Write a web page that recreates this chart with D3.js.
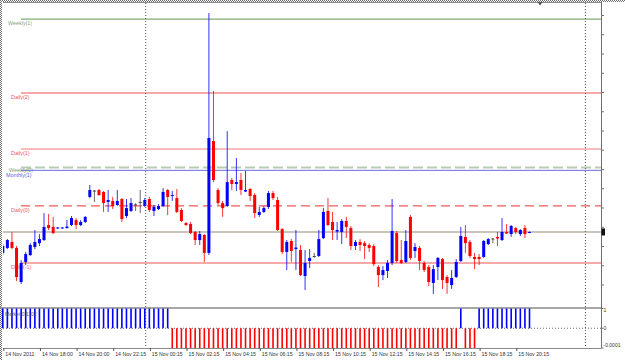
<!DOCTYPE html>
<html>
<head>
<meta charset="utf-8">
<script src="https://cdn.jsdelivr.net/npm/d3@7"></script>
<style>
  body { margin: 0; background: #fff; }
  svg { display: block; font-family: "Liberation Sans", Arial, sans-serif; }
</style>
</head>
<body>
<svg id="chart" width="625" height="360"></svg>
<script>
// M15 bars, 14 Nov 2011 16:00 -> 15 Nov 2011 20:45
const opens = [
  1.35964, 1.35990, 1.36021, 1.35990, 1.35813, 1.35917, 1.35953, 1.35995, 1.36015, 1.36031,
  1.36109, 1.36099, 1.36091, 1.36093, 1.36093, 1.36109, 1.36135, 1.36109, 1.36125, 1.36255,
  1.36288, 1.36291, 1.36281, 1.36229, 1.36234, 1.36213, 1.36244, 1.36156, 1.36182, 1.36216,
  1.36229, 1.36208, 1.36244, 1.36182, 1.36192, 1.36208, 1.36291, 1.36260, 1.36249, 1.36187,
  1.36119, 1.36114, 1.36073, 1.36031, 1.36057, 1.35964, 1.36545, 1.36291, 1.36223, 1.36208,
  1.36343, 1.36322, 1.36343, 1.36283, 1.36296, 1.36265, 1.36161, 1.36177, 1.36203, 1.36275,
  1.36239, 1.36088, 1.35969, 1.36026, 1.35984, 1.35979, 1.35844, 1.35922, 1.35948, 1.35948,
  1.36041, 1.36182, 1.36125, 1.36075, 1.36073, 1.36130, 1.36093, 1.36000, 1.36021, 1.36015,
  1.36005, 1.36000, 1.35891, 1.35849, 1.35870, 1.35912, 1.36067, 1.35927, 1.35917, 1.36151,
  1.35974, 1.35990, 1.35912, 1.35891, 1.35808, 1.35891, 1.35932, 1.35839, 1.35797, 1.35839,
  1.35922, 1.36047, 1.36021, 1.35943, 1.35943, 1.35943, 1.36010, 1.36039, 1.36047, 1.36031,
  1.36073, 1.36062, 1.36093, 1.36062, 1.36093, 1.36070
];
const highs = [
  1.36010, 1.36036, 1.36073, 1.36000, 1.35927, 1.35969, 1.36015, 1.36083, 1.36062, 1.36171,
  1.36166, 1.36151, 1.36099, 1.36099, 1.36135, 1.36156, 1.36145, 1.36135, 1.36156, 1.36317,
  1.36291, 1.36296, 1.36286, 1.36291, 1.36255, 1.36291, 1.36249, 1.36244, 1.36249, 1.36223,
  1.36291, 1.36249, 1.36255, 1.36213, 1.36218, 1.36301, 1.36296, 1.36286, 1.36296, 1.36197,
  1.36125, 1.36125, 1.36078, 1.36078, 1.36062, 1.37210, 1.36805, 1.36301, 1.36234, 1.36597,
  1.36353, 1.36457, 1.36379, 1.36390, 1.36301, 1.36275, 1.36203, 1.36208, 1.36286, 1.36286,
  1.36255, 1.36093, 1.36031, 1.36036, 1.36083, 1.36005, 1.35979, 1.35984, 1.35964, 1.36083,
  1.36197, 1.36249, 1.36177, 1.36125, 1.36140, 1.36151, 1.36104, 1.36031, 1.36036, 1.36026,
  1.36015, 1.36010, 1.35901, 1.35896, 1.35927, 1.36244, 1.36078, 1.36031, 1.36083, 1.36161,
  1.36015, 1.36000, 1.35922, 1.35901, 1.35901, 1.35943, 1.35938, 1.35849, 1.35875, 1.35932,
  1.36099, 1.36109, 1.36031, 1.35964, 1.35958, 1.36031, 1.36041, 1.36041, 1.36073, 1.36145,
  1.36114, 1.36109, 1.36099, 1.36088, 1.36109, 1.36075
];
const lows = [
  1.35953, 1.35984, 1.35984, 1.35818, 1.35802, 1.35901, 1.35948, 1.35984, 1.36000, 1.36026,
  1.36083, 1.36062, 1.36088, 1.36091, 1.36091, 1.36104, 1.36088, 1.36104, 1.36119, 1.36249,
  1.36229, 1.36260, 1.36177, 1.36177, 1.36192, 1.36208, 1.36125, 1.36145, 1.36177, 1.36182,
  1.36171, 1.36203, 1.36177, 1.36156, 1.36187, 1.36203, 1.36161, 1.36234, 1.36171, 1.36125,
  1.36104, 1.36062, 1.36005, 1.36005, 1.35917, 1.35953, 1.36332, 1.36213, 1.36151, 1.36203,
  1.36291, 1.36286, 1.36265, 1.36281, 1.36234, 1.36145, 1.36151, 1.36171, 1.36192, 1.36239,
  1.36078, 1.35958, 1.35875, 1.35917, 1.35875, 1.35844, 1.35771, 1.35886, 1.35938, 1.35943,
  1.36036, 1.36104, 1.36031, 1.36031, 1.36010, 1.36041, 1.35979, 1.35979, 1.35974, 1.35932,
  1.35969, 1.35896, 1.35787, 1.35823, 1.35834, 1.35901, 1.35912, 1.35906, 1.35912, 1.35927,
  1.35938, 1.35875, 1.35865, 1.35792, 1.35751, 1.35823, 1.35777, 1.35751, 1.35777, 1.35834,
  1.35917, 1.35964, 1.35938, 1.35880, 1.35901, 1.35938, 1.36005, 1.36015, 1.36000, 1.36026,
  1.36062, 1.36047, 1.36062, 1.36052, 1.36041, 1.36067
];
const closes = [
  1.36000, 1.36031, 1.35990, 1.35839, 1.35912, 1.35958, 1.36005, 1.36021, 1.36036, 1.36099,
  1.36093, 1.36067, 1.36096, 1.36096, 1.36101, 1.36145, 1.36109, 1.36125, 1.36151, 1.36291,
  1.36288, 1.36265, 1.36223, 1.36239, 1.36208, 1.36234, 1.36140, 1.36197, 1.36223, 1.36216,
  1.36229, 1.36239, 1.36187, 1.36203, 1.36208, 1.36281, 1.36255, 1.36265, 1.36177, 1.36130,
  1.36109, 1.36067, 1.36031, 1.36062, 1.35964, 1.36561, 1.36343, 1.36223, 1.36197, 1.36332,
  1.36322, 1.36332, 1.36291, 1.36291, 1.36260, 1.36171, 1.36177, 1.36197, 1.36275, 1.36249,
  1.36083, 1.35969, 1.36021, 1.35974, 1.35992, 1.35849, 1.35912, 1.35938, 1.35948, 1.36036,
  1.36177, 1.36109, 1.36083, 1.36083, 1.36130, 1.36099, 1.36000, 1.36021, 1.36005, 1.36000,
  1.35990, 1.35906, 1.35849, 1.35875, 1.35912, 1.36078, 1.35922, 1.35912, 1.36026, 1.35938,
  1.35995, 1.35922, 1.35875, 1.35813, 1.35880, 1.35938, 1.35823, 1.35808, 1.35834, 1.35917,
  1.36052, 1.36015, 1.35948, 1.35932, 1.35932, 1.36026, 1.36036, 1.36039, 1.36039, 1.36073,
  1.36065, 1.36104, 1.36073, 1.36083, 1.36062, 1.36073
];

// indicator window (+1 / -1 histogram)
const signal = [
  1, 1, 1, 1, 1, 1, 1, 1, 1, 1,
  1, 1, 1, 1, 1, 1, 1, 1, 1, 1,
  1, 1, 1, 1, 1, 1, 1, 1, 1, 1,
  1, 1, 1, 1, 1, 1, 1, -1, -1, -1,
  -1, -1, -1, -1, -1, -1, -1, -1, -1, -1,
  -1, -1, -1, -1, -1, -1, -1, -1, -1, -1,
  -1, -1, -1, -1, -1, -1, -1, -1, -1, -1,
  -1, -1, -1, -1, -1, -1, -1, -1, -1, -1,
  -1, -1, -1, -1, -1, -1, -1, -1, -1, -1,
  -1, -1, -1, -1, -1, -1, -1, -1, -1, -1,
  1, -1, -1, -1, 1, 1, 1, 1, 1, 1,
  1, 1, 1, 1, 1, 1
];

// pivot levels
const levelNames = ["Weekly(1)", "Daily(2)", "Daily(1)", "Weekly(0)", "Monthly(1)", "Daily(0)", "Daily(-1)"];
const levelPrices = [1.37179, 1.36795, 1.36504, 1.36408, 1.36393, 1.36208, 1.35912];
const bidPrice = 1.36073;

// axes
const priceTicks = [1.3720, 1.3710, 1.3700, 1.3690, 1.3680, 1.3670, 1.3660, 1.3650,
                    1.3640, 1.3630, 1.3620, 1.3610, 1.3600, 1.3590, 1.3580];
const timeTickBars = [0, 8, 16, 24, 32, 40, 48, 56, 64, 72, 80, 88, 96, 104, 112];
const timeLabels = ["14 Nov 2011", "14 Nov 18:00", "14 Nov 20:00", "14 Nov 22:15", "15 Nov 00:15",
                    "15 Nov 02:15", "15 Nov 04:15", "15 Nov 06:15", "15 Nov 08:15", "15 Nov 10:15",
                    "15 Nov 12:15", "15 Nov 14:15", "15 Nov 16:15", "15 Nov 18:15", "15 Nov 20:15"];
const daySeparators = [31.2, 127.2];   // in bar units
const shiftBar = 117.3;
const indTicks = [1, 0, -1];
const indTickLabels = ["1", "0", "-0.0001"];

const svg = d3.select("#chart");
const left = 3, right = 601;
const mainTop = 3, mainBottom = 306, indTop = 308, indBottom = 348;

const x = d3.scaleLinear().domain([0, 115]).range([2.8, 529.5]);
const y = d3.scaleLinear().domain([1.3720, 1.3580]).range([15, 284.5]);
const yInd = d3.scaleLinear().domain([1, -1]).range([308.5, 348]);

// dotted outer frame (top + left)
[0.5, 1.5].forEach((p, k) => {
  svg.append("line").attr("x1", k).attr("x2", 625).attr("y1", p).attr("y2", p)
    .attr("stroke", "#6a6a6a").attr("stroke-dasharray", "1,1");
  svg.append("line").attr("y1", k).attr("y2", 360).attr("x1", p).attr("x2", p)
    .attr("stroke", "#6a6a6a").attr("stroke-dasharray", "1,1");
});
svg.append("line").attr("x1", left).attr("x2", right).attr("y1", 2.5).attr("y2", 2.5)
  .attr("stroke", "#909090");

svg.append("clipPath").attr("id", "mainClip")
  .append("rect").attr("x", left).attr("y", mainTop).attr("width", right - left).attr("height", mainBottom - mainTop);

const main = svg.append("g").attr("clip-path", "url(#mainClip)");

// period separators
svg.selectAll("line.sep").data(daySeparators).join("line")
  .attr("class", "sep")
  .attr("x1", d => x(d)).attr("x2", d => x(d))
  .attr("y1", mainTop).attr("y2", indBottom)
  .attr("stroke", "#505050").attr("stroke-dasharray", "1,2");

// level lines
const levelStyle = {
  "Weekly(1)":  { stroke: "#80ad73", width: 1.2, dash: null,   text: "#8a9f80", tx: 8,  dy: 6 },
  "Daily(2)":   { stroke: "#f6a9a9", width: 2,   dash: null,   text: "#f05858", tx: 11, dy: 6 },
  "Daily(1)":   { stroke: "#f6a9a9", width: 1.6, dash: null,   text: "#f05858", tx: 11, dy: 6 },
  "Weekly(0)":  { stroke: "#b7cdb2", width: 2,   dash: "10,4", text: "#7f9f72", tx: 9,  dy: 4.6 },
  "Monthly(1)": { stroke: "#6c6ce6", width: 1,   dash: null,   text: "#6060e0", tx: 6,  dy: 6.6 },
  "Daily(0)":   { stroke: "#f05a5a", width: 1.3, dash: "9,5",  text: "#f05858", tx: 11, dy: 6 },
  "Daily(-1)":  { stroke: "#f6a9a9", width: 2,   dash: null,   text: "#f05858", tx: 11, dy: 6 }
};

levelNames.forEach((name, k) => {
  const s = levelStyle[name];
  const py = y(levelPrices[k]);
  main.append("line")
    .attr("x1", 21).attr("x2", right).attr("y1", py).attr("y2", py)
    .attr("stroke", s.stroke).attr("stroke-width", s.width)
    .attr("stroke-dasharray", s.dash);
  main.append("text")
    .attr("x", s.tx).attr("y", py + s.dy)
    .attr("fill", s.text).attr("font-size", "5.4px")
    .text(name);
});

// bid line
main.append("line")
  .attr("x1", left).attr("x2", right).attr("y1", y(bidPrice)).attr("y2", y(bidPrice))
  .attr("stroke", "#c9c5bd").attr("stroke-width", 2);

// candles
const bars = opens.map((o, i) => ({ i, o, h: highs[i], l: lows[i], c: closes[i] }));
const colorOf = d => d.c > d.o ? "#0000ff" : (d.c < d.o ? "#ff0000" : "#454545");

main.selectAll("line.wick").data(bars).join("line")
  .attr("class", "wick")
  .attr("x1", d => x(d.i)).attr("x2", d => x(d.i))
  .attr("y1", d => y(d.h)).attr("y2", d => y(d.l))
  .attr("stroke", colorOf).attr("stroke-width", 1).attr("stroke-opacity", 0.8);

main.selectAll("rect.body").data(bars).join("rect")
  .attr("class", "body")
  .attr("x", d => x(d.i) - 1.5).attr("width", 3)
  .attr("y", d => y(Math.max(d.o, d.c)))
  .attr("height", d => Math.max(1, Math.abs(y(d.o) - y(d.c))))
  .attr("fill", colorOf);

// right price axis (labels off-screen in the source)
svg.append("g")
  .attr("transform", `translate(${right},0)`)
  .call(d3.axisRight(y).tickValues(priceTicks).tickSize(3).tickSizeOuter(0).tickFormat(""))
  .call(g => g.select(".domain").remove())
  .call(g => g.selectAll("line").attr("stroke", "#707070"));
svg.append("line").attr("x1", right + 0.5).attr("x2", right + 0.5).attr("y1", 2).attr("y2", indBottom)
  .attr("stroke", "#707070");

// current price marker
svg.append("rect")
  .attr("x", right + 0.5).attr("y", y(bidPrice) - 3.5).attr("width", 3.5).attr("height", 7)
  .attr("fill", "#111");

// chart shift marker
const sx = x(shiftBar);
svg.append("path")
  .attr("d", `M${sx - 2.5},2 L${sx + 2.5},2 L${sx},5.5 Z`)
  .attr("fill", "#555");

// indicator window
svg.append("line").attr("x1", 0).attr("x2", right).attr("y1", indTop).attr("y2", indTop)
  .attr("stroke", "#8a8a8a").attr("stroke-width", 1.3);
svg.append("line").attr("x1", left).attr("x2", right).attr("y1", yInd(0)).attr("y2", yInd(0))
  .attr("stroke", "#666").attr("stroke-dasharray", "1,2");

svg.selectAll("rect.hist").data(signal.map((v, i) => ({ i, v }))).join("rect")
  .attr("class", "hist")
  .attr("x", d => x(d.i) - 0.8).attr("width", 1.6)
  .attr("y", d => Math.min(yInd(0), yInd(d.v)))
  .attr("height", d => Math.abs(yInd(d.v) - yInd(0)))
  .attr("fill", d => d.v > 0 ? "#0000ff" : "#ff0000");

svg.append("text").attr("x", 5).attr("y", 316)
  .attr("font-size", "5px").attr("fill", "#555").text("Market 0.1102");

const indAxis = svg.append("g");
indAxis.selectAll("line").data(indTicks).join("line")
  .attr("x1", right).attr("x2", right + 2.5)
  .attr("y1", d => yInd(d)).attr("y2", d => yInd(d))
  .attr("stroke", "#707070");
indAxis.selectAll("text").data(indTicks).join("text")
  .attr("x", right + 2.5).attr("y", (d, k) => yInd(d) + (k === 0 ? 3.5 : (k === 1 ? 2 : -1.5)))
  .attr("font-size", "5px").attr("fill", "#333")
  .text((d, k) => indTickLabels[k]);

// time axis
const timeAxis = svg.append("g")
  .attr("transform", `translate(0,${indBottom})`)
  .call(d3.axisBottom(x).tickValues(timeTickBars).tickSize(3).tickSizeOuter(0)
    .tickFormat((d, k) => timeLabels[k]));
timeAxis.select(".domain").attr("d", `M${left},0.5H${right}`).attr("stroke", "#8a8a8a");
timeAxis.selectAll(".tick line").attr("stroke", "#555").attr("transform", "translate(0.5,0)");
timeAxis.selectAll(".tick text")
  .attr("text-anchor", "start").attr("x", 2).attr("y", 4).attr("dy", "0.71em")
  .attr("font-size", "5.2px").attr("fill", "#333")
  .attr("font-family", "'Liberation Sans', Arial, sans-serif");
</script>
</body>
</html>
